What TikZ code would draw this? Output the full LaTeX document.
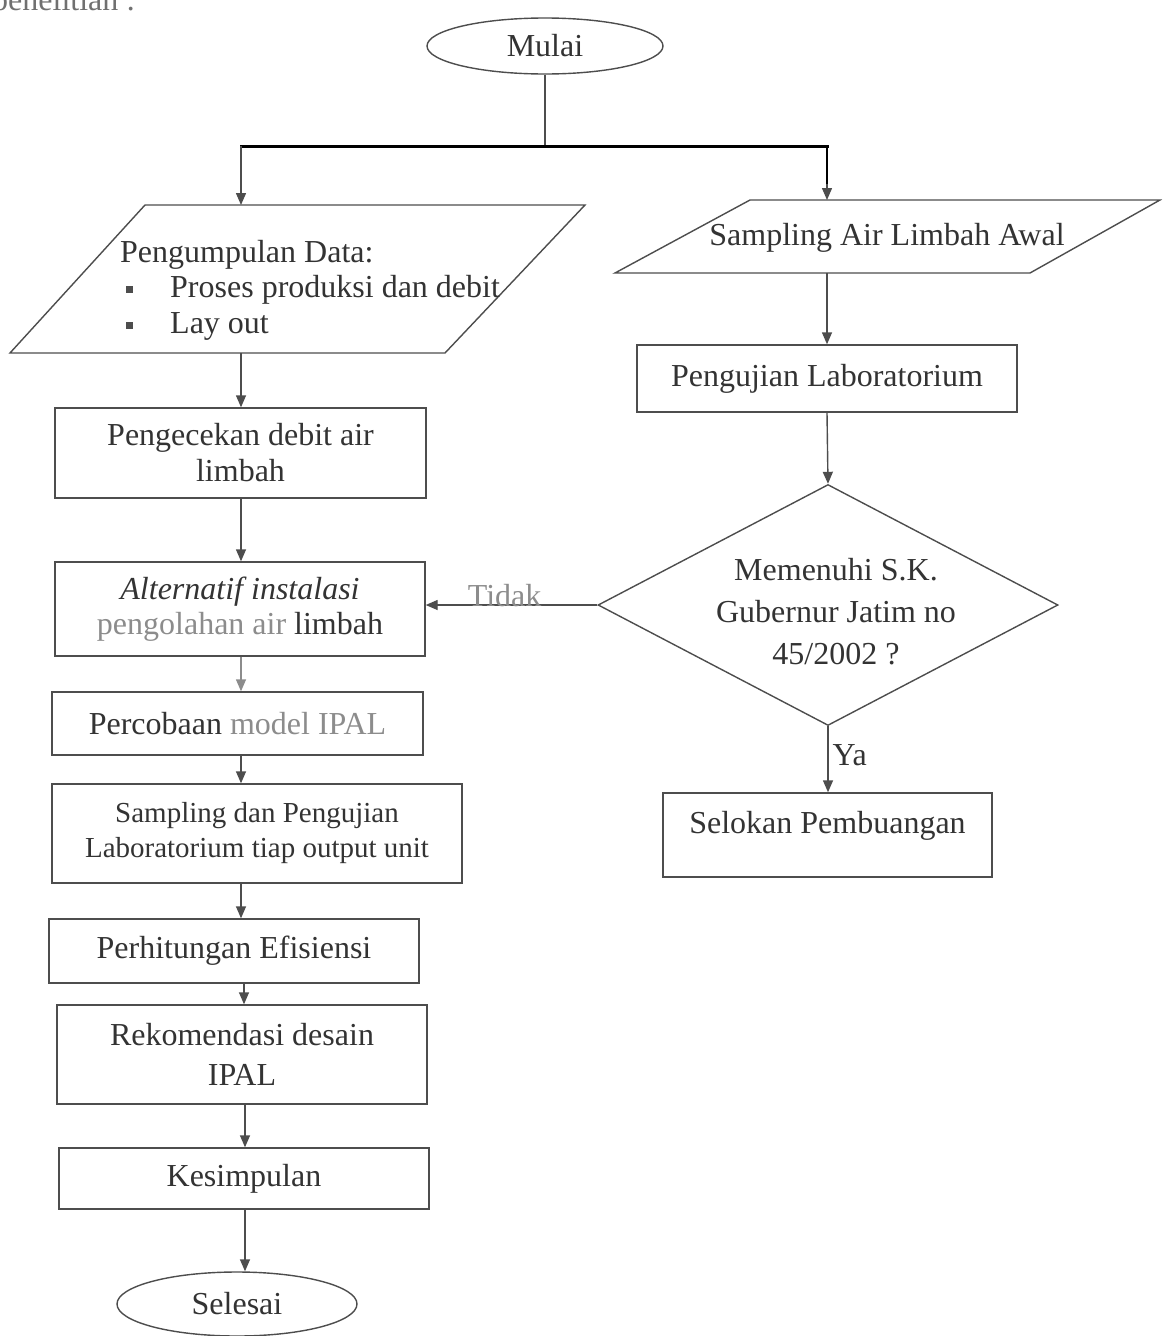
\documentclass[tikz,border=0pt]{standalone}
\usepackage{fontspec}
\setmainfont{Liberation Serif}
\usetikzlibrary{arrows.meta,shapes.geometric,calc}
\definecolor{lncol}{HTML}{4D4D4D}
\definecolor{tx}{HTML}{333333}
\definecolor{gtx}{HTML}{8C8C8C}
\begin{document}
\begin{tikzpicture}[x=1pt,y=-1pt,
  every node/.style={text=tx},
  box/.style={draw=lncol, line width=1.4pt, rectangle, inner sep=0pt, align=center, font=\fontsize{32}{36}\selectfont},
  term/.style={draw=lncol, line width=1.4pt, ellipse, inner sep=0pt, font=\fontsize{32}{36}\selectfont},
  conn/.style={draw=lncol, line width=1.4pt},
  arr/.style={conn, -{Triangle[length=12pt,width=10pt]}},
  txt/.style={inner sep=0pt, font=\fontsize{32}{36}\selectfont},
  bulletbox/.style={fill=lncol, minimum size=7pt, inner sep=0pt},
  lbl/.style={inner sep=0pt, font=\fontsize{32}{36}\selectfont}
]
\useasboundingbox (0,0) rectangle (1162,1336);
\clip (0,0) rectangle (1162,1336);

% cut-off heading line
\node[txt, anchor=base west, text=gtx!80!black] (hdr) at (-8,10) {penelitian :};

% column coordinates
\coordinate (cl) at (241,0);
\coordinate (cl2) at (245,0);
\coordinate (cr) at (827,0);

% start
\node[term, minimum width=236pt, minimum height=56pt] (mulai) at (545,46) {Mulai};

% left parallelogram
\coordinate (pa) at (10,353);
\coordinate (pb) at (145,205);
\coordinate (pc) at (585,205);
\coordinate (pd) at (445,353);
\draw[conn] (pa) -- (pb) -- (pc) -- (pd) -- cycle;
\coordinate (pdtop) at (241,205);
\coordinate (pdbot) at (241,353);
\node[txt, anchor=base west] (pdh) at (120,262) {Pengumpulan Data:};
\node[bulletbox] (bu1) at (129,289) {};
\node[txt, anchor=base west] (pd1) at (170,297) {Proses produksi dan debit};
\node[bulletbox] (bu2) at (129,325) {};
\node[txt, anchor=base west] (pd2) at (170,333) {Lay out};

% right parallelogram
\coordinate (qa) at (615,273);
\coordinate (qb) at (750,200);
\coordinate (qc) at (1160,200);
\coordinate (qd) at (1030,273);
\draw[conn] (qa) -- (qb) -- (qc) -- (qd) -- cycle;
\coordinate (sptop) at (827,200);
\coordinate (spbot) at (827,273);
\node[txt, anchor=base] (spt) at (887,245) {Sampling Air Limbah Awal};

% right column
\node[box, minimum width=380pt, minimum height=67pt] (lab) at (827,378.5) {Pengujian Laboratorium};
\node[draw=lncol, line width=1.4pt, diamond, minimum width=460pt, minimum height=241pt, inner sep=0pt] (dec) at (828,605) {};
\node[txt, align=center, font=\fontsize{32}{42}\selectfont] (dectext) at (836,612) {Memenuhi S.K.\\Gubernur Jatim no\\45/2002 ?};
\node[box, minimum width=329pt, minimum height=84pt, text depth=25pt] (selokan) at (827.5,835) {Selokan Pembuangan};

% left column
\node[box, minimum width=371pt, minimum height=90pt] (cek) at (240.5,453) {Pengecekan debit air\\limbah};
\node[box, minimum width=370pt, minimum height=94pt, font=\fontsize{32}{35}\selectfont] (alt) at (240,609) {\itshape Alternatif instalasi\\{\color{gtx}pengolahan air} limbah};
\node[box, minimum width=371pt, minimum height=63pt] (perc) at (237.5,723.5) {Percobaan {\color{gtx}model IPAL}};
\node[box, minimum width=410pt, minimum height=99pt, font=\fontsize{29}{35}\selectfont] (samp) at (257,833.5) {Sampling dan Pengujian\\Laboratorium tiap output unit};
\node[box, minimum width=370pt, minimum height=64pt] (hit) at (234,951) {Perhitungan Efisiensi};
\node[box, minimum width=370pt, minimum height=99pt, font=\fontsize{32}{40}\selectfont] (rek) at (242,1054.5) {Rekomendasi desain\\IPAL};
\node[box, minimum width=370pt, minimum height=61pt] (kes) at (244,1178.5) {Kesimpulan};
\node[term, minimum width=240pt, minimum height=64pt] (selesai) at (237,1304) {Selesai};

% connectors from start
\coordinate (jn) at (545,146);
\coordinate (jl) at (241,146);
\coordinate (jr) at (827,146);
\draw[conn] (mulai.south) -- (jn);
\draw[line width=3pt, black] ([xshift=-1pt]jl) -- ([xshift=1.5pt]jr);
\draw[arr] (jl) -- (pdtop);
\draw[line width=2.5pt, black] (jr) -- ($(jr)!0.75!(sptop)$);
\draw[arr] ($(jr)!0.7!(sptop)$) -- (sptop);

% right column connectors
\draw[arr] (spbot) -- (spbot |- lab.north);
\draw[arr] (lab.south -| cr) -- (dec.north);
\draw[arr] (dec.south) -- node[lbl, anchor=base west, pos=0.6, xshift=4pt] (ya) {Ya} (dec.south |- selokan.north);
\draw[arr] (dec.west) -- node[lbl, anchor=base, pos=0.54, yshift=-1pt, text=gtx] (tidak) {Tidak} (alt.east |- dec.west);

% left column connectors
\draw[arr] (pdbot) -- (pdbot |- cek.north);
\draw[arr] (cek.south -| cl) -- (alt.north -| cl);
\draw[arr, draw=gtx] (alt.south -| cl) -- (perc.north -| cl);
\draw[arr] (perc.south -| cl) -- (samp.north -| cl);
\draw[arr] (samp.south -| cl) -- (hit.north -| cl);
\draw[arr] ([xshift=3pt]hit.south -| cl) -- ([xshift=3pt]rek.north -| cl);
\draw[arr] (rek.south -| cl2) -- (kes.north -| cl2);
\draw[arr] (kes.south -| cl2) -- (selesai.north -| cl2);
\end{tikzpicture}
\end{document}
